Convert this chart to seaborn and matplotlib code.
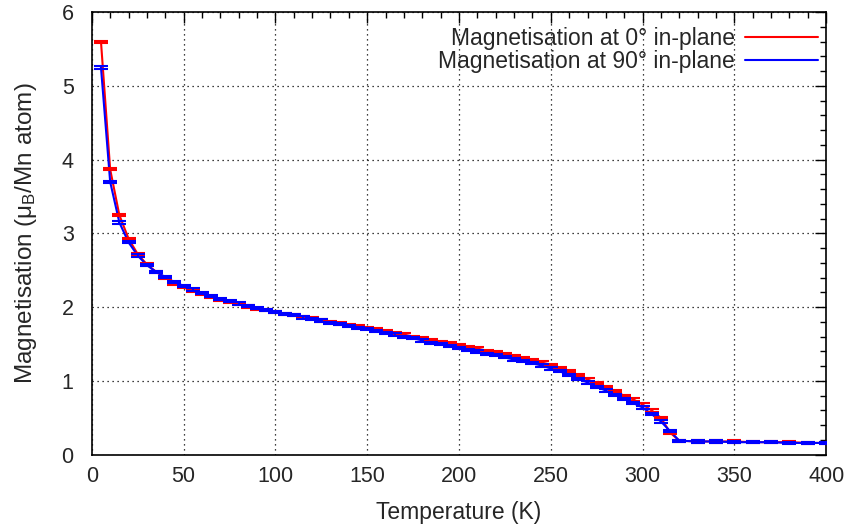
import numpy as np
import pandas as pd
import matplotlib
matplotlib.use("Agg")
import matplotlib.pyplot as plt
import seaborn as sns
from matplotlib.ticker import MultipleLocator

temperature = [5, 10, 15, 20, 25, 30, 35, 40, 45, 50, 55, 60, 65, 70, 75, 80, 85, 90, 95, 100,
               105, 110, 115, 120, 125, 130, 135, 140, 145, 150, 155, 160, 165, 170, 175, 180,
               185, 190, 195, 200, 205, 210, 215, 220, 225, 230, 235, 240, 245, 250, 255, 260,
               265, 270, 275, 280, 285, 290, 295, 300, 305, 310, 315, 320, 330, 340, 350, 360,
               370, 380, 390, 400]
mag_0deg = [5.60, 3.87, 3.25, 2.93, 2.72, 2.58, 2.48, 2.40, 2.32, 2.27, 2.22, 2.18, 2.14, 2.10,
            2.07, 2.04, 2.01, 1.98, 1.96, 1.93, 1.91, 1.89, 1.87, 1.85, 1.82, 1.80, 1.78, 1.76,
            1.74, 1.72, 1.70, 1.67, 1.65, 1.63, 1.60, 1.58, 1.56, 1.53, 1.51, 1.49, 1.46, 1.44,
            1.41, 1.39, 1.36, 1.34, 1.31, 1.28, 1.25, 1.22, 1.18, 1.13, 1.08, 1.02, 0.97, 0.92,
            0.86, 0.80, 0.75, 0.68, 0.60, 0.50, 0.30, 0.19, 0.18, 0.18, 0.18, 0.17, 0.17, 0.17,
            0.16, 0.16]
mag_90deg = [5.25, 3.70, 3.15, 2.88, 2.70, 2.57, 2.48, 2.41, 2.34, 2.29, 2.24, 2.19, 2.15, 2.11,
             2.08, 2.05, 2.02, 1.99, 1.96, 1.93, 1.91, 1.89, 1.86, 1.84, 1.82, 1.79, 1.77, 1.75,
             1.72, 1.70, 1.68, 1.65, 1.63, 1.60, 1.58, 1.55, 1.52, 1.50, 1.47, 1.45, 1.42, 1.40,
             1.37, 1.35, 1.32, 1.29, 1.27, 1.24, 1.21, 1.17, 1.13, 1.08, 1.03, 0.98, 0.92, 0.87,
             0.81, 0.76, 0.70, 0.64, 0.55, 0.45, 0.32, 0.19, 0.18, 0.18, 0.17, 0.17, 0.17, 0.16,
             0.16, 0.16]
mag_err = 0.015

labels = ["Magnetisation at 0° in-plane", "Magnetisation at 90° in-plane"]
colors = ["#ff0000", "#0000ff"]

df = pd.DataFrame({
    "Temperature": temperature * 2,
    "Magnetisation": mag_0deg + mag_90deg,
    "series": [labels[0]] * len(temperature) + [labels[1]] * len(temperature),
})

sns.set_style("white")
plt.rcParams["font.family"] = ["Liberation Sans", "DejaVu Sans"]

fig = plt.figure(figsize=(8.5, 5.3), dpi=100)
ax = fig.add_axes([0.108, 0.142, 0.864, 0.835])

sns.lineplot(data=df, x="Temperature", y="Magnetisation", hue="series",
             palette=colors, linewidth=1.5, ax=ax, legend=True, zorder=3)
for vals, c in zip([mag_0deg, mag_90deg], colors):
    ax.errorbar(temperature, vals, yerr=mag_err, fmt="none", ecolor=c,
                elinewidth=1.5, capsize=5, capthick=1.5, zorder=3)

ax.set_xlim(0, 400)
ax.set_ylim(0, 6)
ax.xaxis.set_major_locator(MultipleLocator(50))
ax.xaxis.set_minor_locator(MultipleLocator(10))
ax.yaxis.set_major_locator(MultipleLocator(1))
ax.yaxis.set_minor_locator(MultipleLocator(0.2))
ax.tick_params(which="both", direction="in", top=True, right=True, labelsize=15.5,
               color="black")
ax.tick_params(which="major", length=8, width=1)
ax.tick_params(which="minor", length=4, width=1)
ax.tick_params(axis="x", pad=8)
ax.tick_params(axis="y", pad=13)
ax.grid(True, which="major", color="black", linestyle=(0, (1, 3)), linewidth=0.9)
for s in ax.spines.values():
    s.set_color("black")
    s.set_linewidth(1.2)

ax.set_xlabel("Temperature (K)", fontsize=16.5, labelpad=10)
ax.set_ylabel(r"Magnetisation ($\mathregular{\mu_B}$/Mn atom)", fontsize=17.5, labelpad=16)

handles, labs = ax.get_legend_handles_labels()
ax.legend(handles, labs, loc="upper right", bbox_to_anchor=(1.0, 0.984),
          frameon=False, fontsize=16.5,
          markerfirst=False, handlelength=3.2, borderaxespad=0.1, borderpad=0.25,
          labelspacing=0.0, handletextpad=0.45)

fig.savefig("out.png", dpi=100)
